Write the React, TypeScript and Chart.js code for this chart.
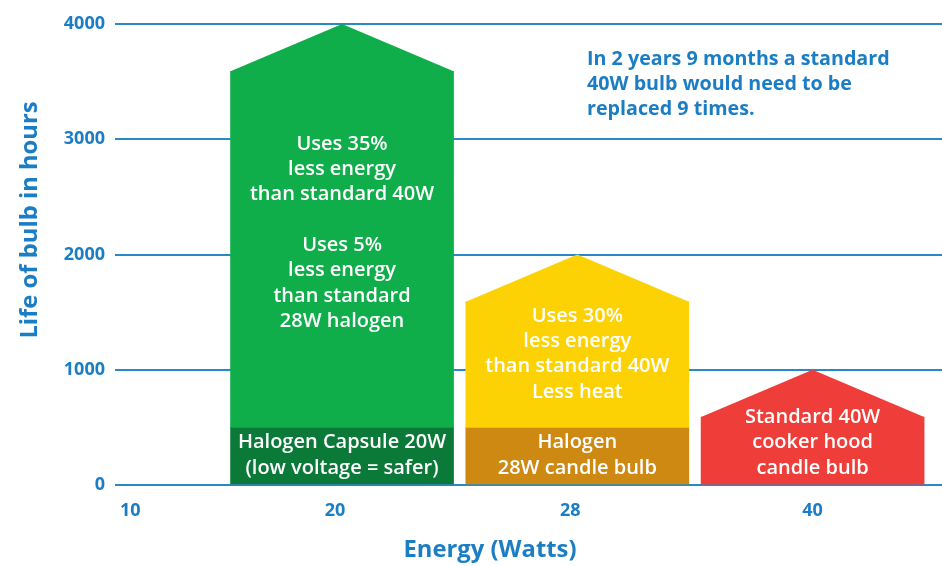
import { useEffect, useRef } from "react";
import { Chart, registerables } from "chart.js";

Chart.register(...registerables);

// ---- data ----
const wattLabels = ["10", "20", "28", "40"];
const bulbSlot = [1, 2, 3];
const peakHours = [4000, 2000, 1000];
const shoulderHours = [3590, 1590, 590];
const bandHours = [500, 500, 0];
const yTickValues = [0, 1000, 2000, 3000, 4000];
const benefitLines = [
  ["Uses 35%", "less energy", "than standard 40W", "", "Uses 5%", "less energy", "than standard", "28W halogen"],
  ["Uses 30%", "less energy", "than standard 40W", "Less heat"],
  [],
];
const bandLines = [
  ["Halogen Capsule 20W", "(low voltage = safer)"],
  ["Halogen", "28W candle bulb"],
  ["Standard 40W", "cooker hood", "candle bulb"],
];
const noteLines = ["In 2 years 9 months a standard", "40W bulb would need to be", "replaced 9 times."];
const yTitle = "Life of bulb in hours";
const xTitle = "Energy (Watts)";

// ---- styles ----
const BLUE = "#1b7dc3";
const GRID = "#2a88c9";
const bodyColors = ["#10ad4b", "#fdd205", "#ef3e39"];
const bandColors = ["#0b7a38", "#cd8912", "#ef3e39"];
const FONT = "'Open Sans', 'Noto Sans', sans-serif";
const tickSpots = [0.1, 0.97, 1.97, 3.0];
const benefitShift = [-11, -5, 0];
const LINE = 25.3;

const housePlugin = {
  id: "houses",
  afterDatasetsDraw(chart: any) {
    const { ctx, scales, chartArea } = chart;
    const y = scales.y;
    const bodyMeta = chart.getDatasetMeta(0);
    ctx.save();
    // roofs
    bodyMeta.data.forEach((el: any, i: number) => {
      const { x, width } = el.getProps(["x", "width"], true);
      const l = x - width / 2;
      const r = x + width / 2;
      const ys = y.getPixelForValue(shoulderHours[i]);
      const yp = y.getPixelForValue(peakHours[i]);
      ctx.beginPath();
      ctx.moveTo(l, ys + 1);
      ctx.lineTo(l, ys);
      ctx.lineTo(x, yp);
      ctx.lineTo(r, ys);
      ctx.lineTo(r, ys + 1);
      ctx.closePath();
      ctx.fillStyle = bodyColors[i];
      ctx.fill();
    });
    // texts in bars
    ctx.fillStyle = "#ffffff";
    ctx.textAlign = "center";
    ctx.textBaseline = "alphabetic";
    ctx.font = `600 20px ${FONT}`;
    const zeroPx = y.getPixelForValue(0);
    bodyMeta.data.forEach((el: any, i: number) => {
      const { x } = el.getProps(["x"], true);
      const bl = bandLines[i];
      const lastBase = zeroPx - 11.5;
      bl.forEach((t, k) => ctx.fillText(t, x, lastBase - (bl.length - 1 - k) * LINE));
      const lines = benefitLines[i];
      if (lines.length) {
        const top = y.getPixelForValue(shoulderHours[i]);
        const bot = y.getPixelForValue(bandHours[i]);
        const mid = (top + bot) / 2 + benefitShift[i];
        const first = mid - ((lines.length - 1) * LINE) / 2;
        lines.forEach((t, k) => ctx.fillText(t, x, first + k * LINE));
      }
    });
    // note
    ctx.fillStyle = BLUE;
    ctx.textAlign = "left";
    ctx.font = `bold 19.7px ${FONT}`;
    noteLines.forEach((t, k) => ctx.fillText(t, 587, chartArea.top + 41 + k * 25));
    // axis titles
    ctx.font = `bold 23.8px ${FONT}`;
    ctx.textAlign = "center";
    ctx.textBaseline = "middle";
    ctx.fillText(xTitle, 490, 550);
    ctx.save();
    ctx.translate(30, 220);
    ctx.rotate(-Math.PI / 2);
    ctx.fillText(yTitle, 0, 0);
    ctx.restore();
    ctx.restore();
  },
};

export default function App() {
  const ref = useRef<HTMLCanvasElement>(null);
  useEffect(() => {
    const canvas = ref.current;
    if (!canvas) return;
    const chart = new Chart(canvas, {
      type: "bar",
      data: {
        datasets: [
          {
            label: "Life",
            data: bulbSlot.map((x, i) => ({ x, y: [bandHours[i], shoulderHours[i]] })) as any,
            backgroundColor: bodyColors,
            grouped: false,
            barThickness: 223,
            borderWidth: 0,
          },
          {
            label: "Type",
            data: bulbSlot.map((x, i) => ({ x, y: [0, bandHours[i]] })) as any,
            backgroundColor: bandColors,
            grouped: false,
            barThickness: 223,
            borderWidth: 0,
          },
        ],
      },
      options: {
        responsive: false,
        animation: false,
        layout: { padding: { top: 24, left: 0, right: 0, bottom: 0 } },
        plugins: { legend: { display: false }, tooltip: { enabled: false }, title: { display: false } },
        scales: {
          x: {
            type: "linear",
            offset: false,
            min: 0.035,
            max: 3.55,
            grid: { display: false, offset: false },
            border: { display: false },
            afterBuildTicks: (s: any) => {
              s.ticks = tickSpots.map((v) => ({ value: v }));
            },
            afterFit: (s: any) => {
              s.height = 81;
            },
            ticks: {
              autoSkip: false,
              maxRotation: 0,
              padding: 7,
              color: BLUE,
              font: { family: FONT, size: 18, weight: "bold" },
              callback: (_v: any, i: number) => wattLabels[i],
            },
          },
          y: {
            min: 0,
            max: 4000,
            afterBuildTicks: (s: any) => {
              s.ticks = yTickValues.map((v) => ({ value: v }));
            },
            afterFit: (s: any) => {
              s.width = 115;
            },
            grid: { color: GRID, lineWidth: 2, drawTicks: false },
            border: { display: false },
            ticks: {
              padding: 10,
              color: BLUE,
              font: { family: FONT, size: 18, weight: "bold" },
              callback: (v: any) => String(v),
            },
          },
        },
      } as any,
      plugins: [housePlugin],
    });
    return () => chart.destroy();
  }, []);
  return (
    <div style={{ position: "absolute", left: 0, top: 0, width: 942, height: 566, background: "#fff" }}>
      <canvas ref={ref} width={942} height={566} style={{ display: "block" }} />
    </div>
  );
}
